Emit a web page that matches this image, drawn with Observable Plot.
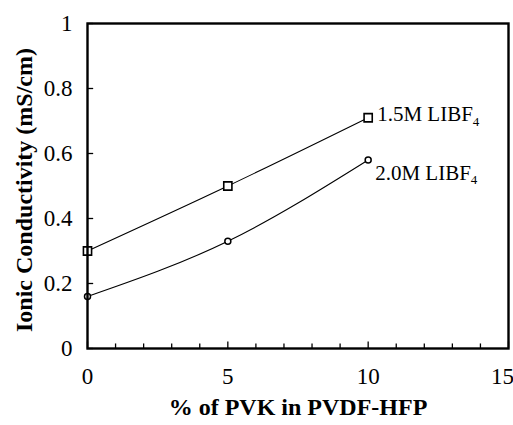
<!DOCTYPE html>
<html><head><meta charset="utf-8">
<script src="https://cdn.jsdelivr.net/npm/d3@7"></script>
<script src="https://cdn.jsdelivr.net/npm/@observablehq/plot@0.6"></script>
<style>body{margin:0;background:#fff}</style>
</head><body><div id="chart"></div>
<script>
const pvk = [0, 5, 10];
const c15 = [0.30, 0.50, 0.71];
const c20 = [0.16, 0.33, 0.58];
const seriesNames = ["1.5M LIBF", "2.0M LIBF"];
const xTicks = [0, 5, 10, 15];
const yTicks = [0, 0.2, 0.4, 0.6, 0.8, 1];
const yTickLabels = ["0", "0.2", "0.4", "0.6", "0.8", "1"];
const xMinor = d3.range(0, 16);

const d15 = pvk.map((x, i) => ({x, y: c15[i]}));
const d20 = pvk.map((x, i) => ({x, y: c20[i]}));

const serif = "Liberation Serif";
const chart = Plot.plot({
  width: 513, height: 425,
  marginLeft: 87, marginRight: 5, marginTop: 23, marginBottom: 77,
  style: {fontSize: "23px", color: "#000", background: "#fff"},
  x: {domain: [0, 15]},
  y: {domain: [0, 1]},
  marks: [
    Plot.ruleX(xMinor, {x: d => d, y1: 0, y2: d => d % 5 === 0 ? 0.02 : 0.014, stroke: "#000", strokeWidth: 1.3}),
    Plot.ruleY(yTicks, {y: d => d, x1: 0, x2: 0.22, stroke: "#000", strokeWidth: 1.3}),
    Plot.axisX({ticks: xTicks, tickSize: 0, tickPadding: 19, tickFormat: d => String(d), fontSize: 23, fontFamily: serif,
      label: "% of PVK in PVDF-HFP", labelAnchor: "center", labelArrow: "none", labelOffset: 66}),
    Plot.axisY({ticks: yTicks, tickSize: 0, tickPadding: 15, tickFormat: (d, i) => yTickLabels[i], fontSize: 23, fontFamily: serif,
      label: "Ionic Conductivity (mS/cm)", labelAnchor: "center", labelArrow: "none", labelOffset: 73}),
    Plot.line(d15, {x: "x", y: "y", curve: "natural", stroke: "#000", strokeWidth: 1.1}),
    Plot.line(d20, {x: "x", y: "y", curve: "natural", stroke: "#000", strokeWidth: 1.1}),
    Plot.dot(d15, {x: "x", y: "y", symbol: "square", r: 4.6, stroke: "#000", fill: "#fff", strokeWidth: 1.6}),
    Plot.dot(d20, {x: "x", y: "y", symbol: "circle", r: 3, stroke: "#000", fill: "#fff", strokeWidth: 1.5}),
    Plot.text([d15[2]], {x: "x", y: "y", text: () => seriesNames[0], dx: 9, dy: -3, textAnchor: "start", fontSize: 21, fontFamily: serif, fill: "#000"}),
    Plot.text([d20[2]], {x: "x", y: "y", text: () => seriesNames[1], dx: 7, dy: 13, textAnchor: "start", fontSize: 21, fontFamily: serif, fill: "#000"}),
    Plot.frame({stroke: "#000", strokeWidth: 2.4})
  ]
});
document.getElementById("chart").appendChild(chart);
const svg = d3.select(chart);
svg.attr("font-family", serif);
svg.selectAll("g[aria-label='x-axis label'] text")
  .attr("font-weight", "bold").attr("font-size", 24).attr("font-family", serif);
svg.selectAll("g[aria-label='y-axis label'] text")
  .attr("font-weight", "bold").attr("font-size", 24).attr("font-family", serif).attr("dx", -4);
svg.selectAll("g[aria-label='x-axis tick label'] text").filter(function() { return this.textContent === "15"; })
  .attr("dx", -6);
svg.selectAll("g[aria-label='text'] text").each(function() {
  d3.select(this).append("tspan").attr("font-size", 13).attr("dy", "0.35em").text("4");
});
</script></body></html>
